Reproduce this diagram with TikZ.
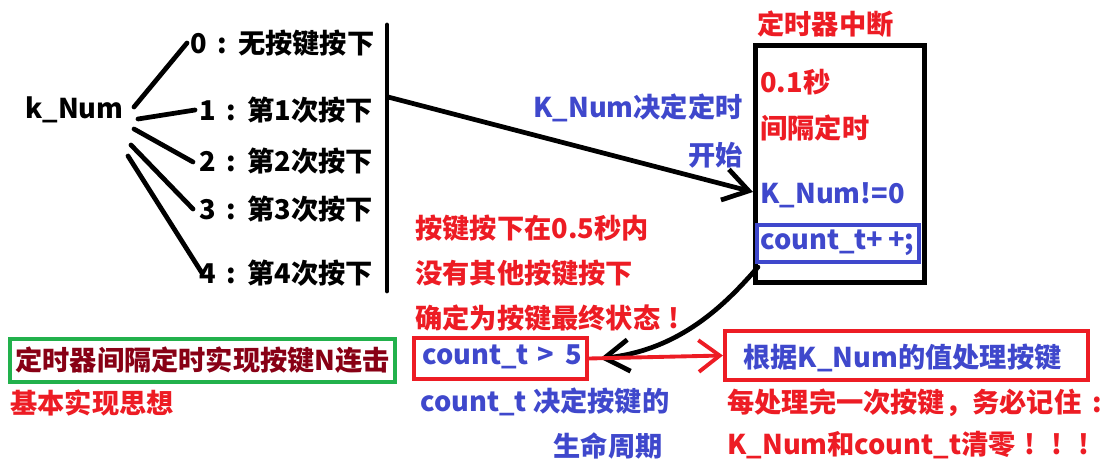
\documentclass[tikz,border=0pt]{standalone}
\usepackage{fontspec}
\setmainfont{Noto Sans CJK SC}
\usetikzlibrary{arrows.meta,calc}
\definecolor{rd}{HTML}{ED1C24}
\definecolor{bl}{HTML}{3F48CC}
\definecolor{gr}{HTML}{22B14C}
\definecolor{dr}{HTML}{880015}
\newcommand\fcolon{\makebox[1.15em][c]{:}}
\newcommand\fexcl{\makebox[1em][c]{!}}
\begin{document}
\begin{tikzpicture}[x=0.02cm,y=-0.02cm,
  font=\fontsize{15.5pt}{18pt}\selectfont\bfseries,
  lbl/.style={inner sep=0pt, anchor=west},
  rlbl/.style={inner sep=0pt, anchor=east},
  ln/.style={line width=2.7pt, line cap=round},
  frame/.style={draw, line width=2.4pt, inner sep=0pt},
  barb/.style={-{Straight Barb[length=14pt,width=18pt,line width=2.7pt]}}]
\useasboundingbox (0,0) rectangle (1100,472);
% left tree
\node[lbl] (knum) at (25,110) {k\_Num};
\node[lbl] (n0) at (190,43) {0\fcolon 无按键按下};
\node[lbl] (n1) at (199,110) {1\fcolon 第1次按下};
\node[lbl] (n2) at (199,161) {2\fcolon 第2次按下};
\node[lbl] (n3) at (199,209) {3\fcolon 第3次按下};
\node[lbl] (n4) at (199,273) {4\fcolon 第4次按下};
\coordinate (k0) at (134,107);
\coordinate (k1) at (138,119);
\coordinate (k2) at (134,129);
\coordinate (k3) at (131,145);
\coordinate (k4) at (128,156);
\draw[ln] (k0) -- ([xshift=-0.06cm]n0.west);
\draw[ln] (k1) -- ([xshift=-0.08cm]n1.west);
\draw[ln] (k2) -- ([xshift=-0.12cm,yshift=-0.02cm]n2.west);
\draw[ln] (k3) -- ([xshift=-0.12cm]n3.west);
\draw[ln] (k4) -- ([xshift=0.06cm]n4.west);
\coordinate (bartop) at (387,25);
\coordinate (barbot) at (387,291);
\coordinate (barmid) at (388,97);
\draw[ln] (bartop) -- (barbot);
% timer box
\node[lbl, text=rd] (title) at (757,24) {定时器中断};
\node[frame, line width=2.8pt, anchor=north west, minimum width=3.38cm, minimum height=4.74cm] (timer) at (753,43) {};
\node[lbl, text=rd] (t1) at (760,82) {0.1秒};
\node[lbl, text=rd] (t2) at (760,128) {间隔定时};
\node[lbl, text=bl] (kne) at (760,195) {K\_Num!=0};
\node[frame, draw=bl, minimum width=3.24cm, minimum height=0.74cm] (cnt) at (838,243.5) {};
\node[lbl, text=bl] (cntt) at (760,243) {count\_t+\,+;};
% arrow to timer
\node[rlbl, text=bl] (d1) at (743,108) {K\_Num决定定时};
\node[rlbl, text=bl] (d2) at (743,155) {开始};
\draw[ln, barb] (barmid) -- ([yshift=0.06cm]timer.west |- kne.west);
% red notes
\node[lbl, text=rd] (r1) at (415,228) {按键按下在0.5秒内};
\node[lbl, text=rd] (r2) at (415,273) {没有其他按键按下};
\node[lbl, text=rd] (r3) at (415,318) {确定为按键最终状态\fexcl};
% count_t > 5
\node[frame, draw=rd, minimum width=3.46cm, minimum height=0.82cm] (gt5) at (500.5,358.5) {};
\node[lbl, text=bl] (gt5t) at (422,357) {count\_t\hspace{0.3em}>\hspace{0.45em}5};
\node[lbl, text=bl] (b1) at (420,402) {count\_t 决定按键的};
\node[rlbl, text=bl] (b2) at (663,446) {生命周期};
% curved arrow
\draw[ln, barb] ([xshift=0.06cm,yshift=-0.06cm]cnt.south west) .. controls (725,305) and (680,350) .. ([xshift=0.22cm]gt5.east);
% process box
\node[frame, draw=rd, minimum width=7.26cm, minimum height=0.98cm] (proc) at (906.5,355.5) {};
\node[lbl, text=bl] (proct) at (743,358) {根据K\_Num的值处理按键};
\draw[line width=2.2pt, draw=rd, -{Straight Barb[length=12pt,width=18pt,line width=2.2pt]}] (gt5.east) -- (proc.west);
\node[lbl, text=rd] (p1) at (727,403) {每处理完一次按键，务必记住\fcolon};
\node[lbl, text=rd] (p2) at (727,445) {K\_Num和count\_t清零\fexcl\fexcl\fexcl};
% green box
\node[frame, draw=gr, minimum width=7.7cm, minimum height=0.86cm] (gbox) at (202.5,360.5) {};
\node[lbl, text=dr] (gt) at (15,360) {定时器间隔定时实现按键N连击};
\node[lbl, text=rd] (g2) at (10,403) {基本实现思想};
\end{tikzpicture}
\end{document}
